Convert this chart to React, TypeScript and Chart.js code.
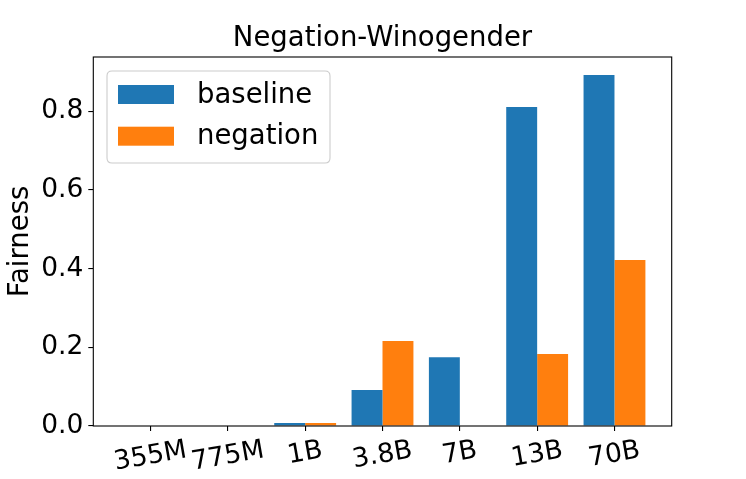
import React, { useEffect, useRef } from "react";
import { Chart, registerables } from "chart.js";

Chart.register(...registerables);

const categories = ["355M", "775M", "1B", "3.8B", "7B", "13B", "70B"];
const baseline = [0, 0, 0.0076, 0.0915, 0.175, 0.811, 0.892];
const negation = [0, 0, 0.0076, 0.216, 0, 0.183, 0.422];
const seriesNames = ["baseline", "negation"];
const yTicks = [0, 0.2, 0.4, 0.6, 0.8];
const titleText = "Negation-Winogender";
const yLabel = "Fairness";

const COLORS = ["#1f77b4", "#ff7f0e"];
const FONT = "'DejaVu Sans', sans-serif";
const TICK_SIZE = 26.5;
const BIG_SIZE = 27.5;

function rr(ctx: CanvasRenderingContext2D, x: number, y: number, w: number, h: number, r: number) {
  ctx.beginPath();
  ctx.moveTo(x + r, y);
  ctx.lineTo(x + w - r, y);
  ctx.quadraticCurveTo(x + w, y, x + w, y + r);
  ctx.lineTo(x + w, y + h - r);
  ctx.quadraticCurveTo(x + w, y + h, x + w - r, y + h);
  ctx.lineTo(x + r, y + h);
  ctx.quadraticCurveTo(x, y + h, x, y + h - r);
  ctx.lineTo(x, y + r);
  ctx.quadraticCurveTo(x, y, x + r, y);
  ctx.closePath();
}

const decorPlugin = {
  id: "decor",
  afterDraw(chart: any) {
    const ctx: CanvasRenderingContext2D = chart.ctx;
    const area = chart.chartArea;
    const xs = chart.scales.x;
    ctx.save();
    // frame
    ctx.strokeStyle = "#000";
    ctx.lineWidth = 1.1;
    ctx.strokeRect(area.left, area.top, area.right - area.left, area.bottom - area.top);

    // title
    ctx.fillStyle = "#000";
    ctx.font = `${BIG_SIZE}px ${FONT}`;
    ctx.textAlign = "center";
    ctx.textBaseline = "alphabetic";
    ctx.fillText(titleText, (area.left + area.right) / 2, 46);

    // x tick labels (rotated 10deg, centered)
    const rot = (10 * Math.PI) / 180;
    ctx.font = `${TICK_SIZE}px ${FONT}`;
    categories.forEach((lab, i) => {
      const px = xs.getPixelForValue(i);
      const w = ctx.measureText(lab).width;
      const h = TICK_SIZE * 1.17;
      const bh = w * Math.sin(rot) + h * Math.cos(rot);
      const cy = area.bottom + 9 + bh / 2;
      ctx.save();
      ctx.translate(px, cy);
      ctx.rotate(-rot);
      ctx.textAlign = "center";
      ctx.textBaseline = "middle";
      ctx.fillText(lab, 0, 0);
      ctx.restore();
    });

    // legend
    const lx = 107, ly = 71, lw = 223, lh = 92;
    rr(ctx, lx, ly, lw, lh, 5);
    ctx.fillStyle = "rgba(255,255,255,0.8)";
    ctx.fill();
    ctx.strokeStyle = "#cccccc";
    ctx.lineWidth = 1.1;
    ctx.stroke();
    chart.data.datasets.forEach((ds: any, i: number) => {
      const cy = 94.5 + i * 41.7;
      ctx.fillStyle = ds.backgroundColor;
      ctx.fillRect(118, cy - 9.5, 56, 19);
      ctx.fillStyle = "#000";
      ctx.font = `${BIG_SIZE}px ${FONT}`;
      ctx.textAlign = "left";
      ctx.textBaseline = "middle";
      ctx.fillText(ds.label, 197, cy + 1);
    });
    ctx.restore();
  },
};

export default function App() {
  const ref = useRef<HTMLCanvasElement>(null);
  useEffect(() => {
    document.body.style.margin = "0";
    const canvas = ref.current;
    if (!canvas) return;
    const chart = new Chart(canvas, {
      type: "bar",
      data: {
        datasets: [
          {
            label: seriesNames[0],
            data: baseline.map((v, i) => ({ x: i, y: v })),
            backgroundColor: COLORS[0],
            categoryPercentage: 0.8,
            barPercentage: 1.0,
          },
          {
            label: seriesNames[1],
            data: negation.map((v, i) => ({ x: i, y: v })),
            backgroundColor: COLORS[1],
            categoryPercentage: 0.8,
            barPercentage: 1.0,
          },
        ],
      },
      options: {
        animation: false,
        responsive: false,
        devicePixelRatio: 1,
        layout: { padding: { top: 57, right: 746 - 671.7, left: 0, bottom: 0 } },
        plugins: {
          legend: { display: false },
          title: { display: false },
          tooltip: { enabled: false },
        },
        scales: {
          x: {
            type: "linear",
            min: -0.74,
            max: 6.74,
            offset: false,
            grid: { display: true, offset: false, drawOnChartArea: false, tickLength: 5, color: "#000", lineWidth: 1.1 },
            border: { display: false },
            ticks: { display: false, includeBounds: false },
            afterBuildTicks: (scale: any) => {
              scale.ticks = categories.map((_, i) => ({ value: i }));
            },
            afterFit: (scale: any) => {
              scale.height = 479 - 426;
            },
          },
          y: {
            min: 0,
            max: 0.938,
            grid: { display: true, drawOnChartArea: false, tickLength: 5, color: "#000", lineWidth: 1.1 },
            border: { display: false },
            ticks: {
              includeBounds: false,
              color: "#000",
              padding: 5,
              font: { family: FONT, size: TICK_SIZE },
              callback: (v: any) => Number(v).toFixed(1),
            },
            afterBuildTicks: (scale: any) => {
              scale.ticks = yTicks.map((v) => ({ value: v }));
            },
            title: {
              display: true,
              text: yLabel,
              color: "#000",
              font: { family: FONT, size: BIG_SIZE },
              padding: { top: 4, bottom: 0 },
            },
            afterFit: (scale: any) => {
              scale.width = 93.3;
            },
          },
        },
      },
      plugins: [decorPlugin],
    } as any);
    return () => chart.destroy();
  }, []);
  return (
    <div style={{ width: 746, height: 479 }}>
      <canvas ref={ref} width={746} height={479} style={{ display: "block" }} />
    </div>
  );
}
